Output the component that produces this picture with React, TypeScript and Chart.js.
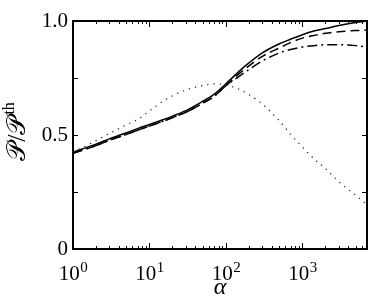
import React, { useEffect, useRef } from 'react';
import { Chart, registerables } from 'chart.js';

Chart.register(...registerables);

// ---- data ----
const alpha = [1, 2, 3, 5, 7, 10, 15, 20, 30, 50, 70, 100, 150, 200, 300, 500, 700, 1000, 1500, 2000, 3000, 5000, 7000];
const solidSeries = [0.425, 0.46, 0.483, 0.51, 0.528, 0.546, 0.567, 0.583, 0.607, 0.648, 0.678, 0.725, 0.78, 0.816, 0.86, 0.9, 0.92, 0.94, 0.958, 0.967, 0.98, 0.993, 1.0];
const dashedSeries = [0.42, 0.454, 0.477, 0.503, 0.521, 0.539, 0.56, 0.576, 0.6, 0.64, 0.67, 0.716, 0.77, 0.803, 0.845, 0.882, 0.905, 0.925, 0.938, 0.946, 0.953, 0.958, 0.96];
const dashDotSeries = [0.42, 0.454, 0.477, 0.503, 0.521, 0.539, 0.56, 0.576, 0.6, 0.64, 0.67, 0.716, 0.758, 0.787, 0.825, 0.86, 0.875, 0.886, 0.893, 0.896, 0.896, 0.892, 0.886];
const dottedSeries = [0.425, 0.475, 0.507, 0.545, 0.568, 0.605, 0.648, 0.672, 0.698, 0.717, 0.724, 0.72, 0.7, 0.677, 0.635, 0.562, 0.503, 0.447, 0.388, 0.353, 0.295, 0.235, 0.195];

const xMin = 1;
const xMax = 7000;
const xDecadeExponents = [0, 1, 2, 3];
const xMinorMultipliers = [1, 2, 3, 4, 5, 6, 7, 8, 9];
const yTickValues = [0, 0.25, 0.5, 0.75, 1];
const yTickLabels = ['0', '', '0.5', '', '1.0'];
const xTitle = 'α';
const yTitleMain = '𝒫/𝒫';
const yTitleSup = 'th';

const FONT = '"Liberation Serif", "DejaVu Serif", serif';

const framePlugin = {
  id: 'frame',
  afterDraw(chart: any) {
    const { ctx, chartArea, scales } = chart;
    const { left, right, top, bottom } = chartArea;
    const xs = scales.x;
    const ys = scales.y;
    ctx.save();
    ctx.strokeStyle = '#000';
    ctx.fillStyle = '#000';
    // ticks
    ctx.lineWidth = 1;
    ctx.beginPath();
    xDecadeExponents.forEach((e) => {
      xMinorMultipliers.forEach((m) => {
        const v = m * Math.pow(10, e);
        if (v < xMin || v > xMax) return;
        const px = Math.round(xs.getPixelForValue(v)) + 0.5;
        const len = m === 1 ? 6 : 3;
        ctx.moveTo(px, bottom);
        ctx.lineTo(px, bottom - len);
        ctx.moveTo(px, top);
        ctx.lineTo(px, top + len);
      });
    });
    yTickValues.forEach((v) => {
      const py = Math.round(ys.getPixelForValue(v)) + 0.5;
      ctx.moveTo(left, py);
      ctx.lineTo(left + 5, py);
      ctx.moveTo(right, py);
      ctx.lineTo(right - 5, py);
    });
    ctx.stroke();
    // frame
    ctx.lineWidth = 2;
    ctx.strokeRect(left, top, right - left, bottom - top);

    // x tick labels 10^e
    xDecadeExponents.forEach((e) => {
      const px = xs.getPixelForValue(Math.pow(10, e));
      ctx.font = `21px ${FONT}`;
      const base = '10';
      const wb = ctx.measureText(base).width;
      ctx.font = `15px ${FONT}`;
      const sup = String(e);
      const ws = ctx.measureText(sup).width;
      const start = px - (wb + ws) / 2;
      ctx.textAlign = 'left';
      ctx.textBaseline = 'alphabetic';
      ctx.font = `21px ${FONT}`;
      ctx.fillText(base, start, 280);
      ctx.font = `15px ${FONT}`;
      ctx.fillText(sup, start + wb + 0.5, 272);
    });

    // x title
    ctx.font = `italic 24px ${FONT}`;
    ctx.textAlign = 'center';
    ctx.textBaseline = 'alphabetic';
    ctx.fillText(xTitle, (left + right) / 2, 294);

    // y title
    ctx.save();
    ctx.translate(25, 132);
    ctx.rotate(-Math.PI / 2);
    ctx.font = `26px ${FONT}`;
    const wm = ctx.measureText(yTitleMain).width;
    ctx.font = `16px ${FONT}`;
    const wsu = ctx.measureText(yTitleSup).width;
    const st = -(wm + wsu) / 2;
    ctx.textAlign = 'left';
    ctx.font = `26px ${FONT}`;
    ctx.fillText(yTitleMain, st, 0);
    ctx.font = `16px ${FONT}`;
    ctx.fillText(yTitleSup, st + wm + 1, -11);
    ctx.restore();

    ctx.restore();
  },
};

function mk(values: number[]) {
  return alpha.map((a, i) => ({ x: a, y: values[i] }));
}

export default function App() {
  const ref = useRef<HTMLCanvasElement | null>(null);
  useEffect(() => {
    if (!ref.current) return;
    const common = { pointRadius: 0, cubicInterpolationMode: 'monotone' as const, fill: false };
    const chart = new Chart(ref.current, {
      type: 'line',
      data: {
        datasets: [
          { data: mk(dottedSeries), borderColor: '#333', borderWidth: 1.3, borderDash: [1.3, 5], ...common },
          { data: mk(dashDotSeries), borderColor: '#000', borderWidth: 1.5, borderDash: [10, 4, 2, 4], ...common },
          { data: mk(dashedSeries), borderColor: '#000', borderWidth: 1.5, borderDash: [9, 5], ...common },
          { data: mk(solidSeries), borderColor: '#000', borderWidth: 1.5, ...common },
        ],
      },
      options: {
        animation: false,
        responsive: true,
        maintainAspectRatio: false,
        layout: { padding: { left: 0, right: 7, top: 21, bottom: 0 } },
        plugins: { legend: { display: false }, tooltip: { enabled: false } },
        scales: {
          x: {
            type: 'logarithmic',
            min: xMin,
            max: xMax,
            grid: { display: false, drawTicks: false },
            border: { display: false },
            ticks: { display: false },
            afterFit: (s: any) => { s.height = 51; },
          },
          y: {
            type: 'linear',
            min: 0,
            max: 1,
            afterBuildTicks: (s: any) => { s.ticks = yTickValues.map((v) => ({ value: v })); },
            ticks: {
              callback: (_v: any, i: number) => yTickLabels[i],
              color: '#000',
              padding: 5,
              font: { family: FONT, size: 21 },
              autoSkip: false,
            },
            grid: { display: false, drawTicks: false },
            border: { display: false },
            afterFit: (s: any) => { s.width = 73; },
          },
        },
      },
      plugins: [framePlugin],
    });
    return () => chart.destroy();
  }, []);
  return (
    <div style={{ position: 'fixed', left: 0, top: 0, width: 374, height: 300, background: '#fff' }}>
      <canvas ref={ref} />
    </div>
  );
}
